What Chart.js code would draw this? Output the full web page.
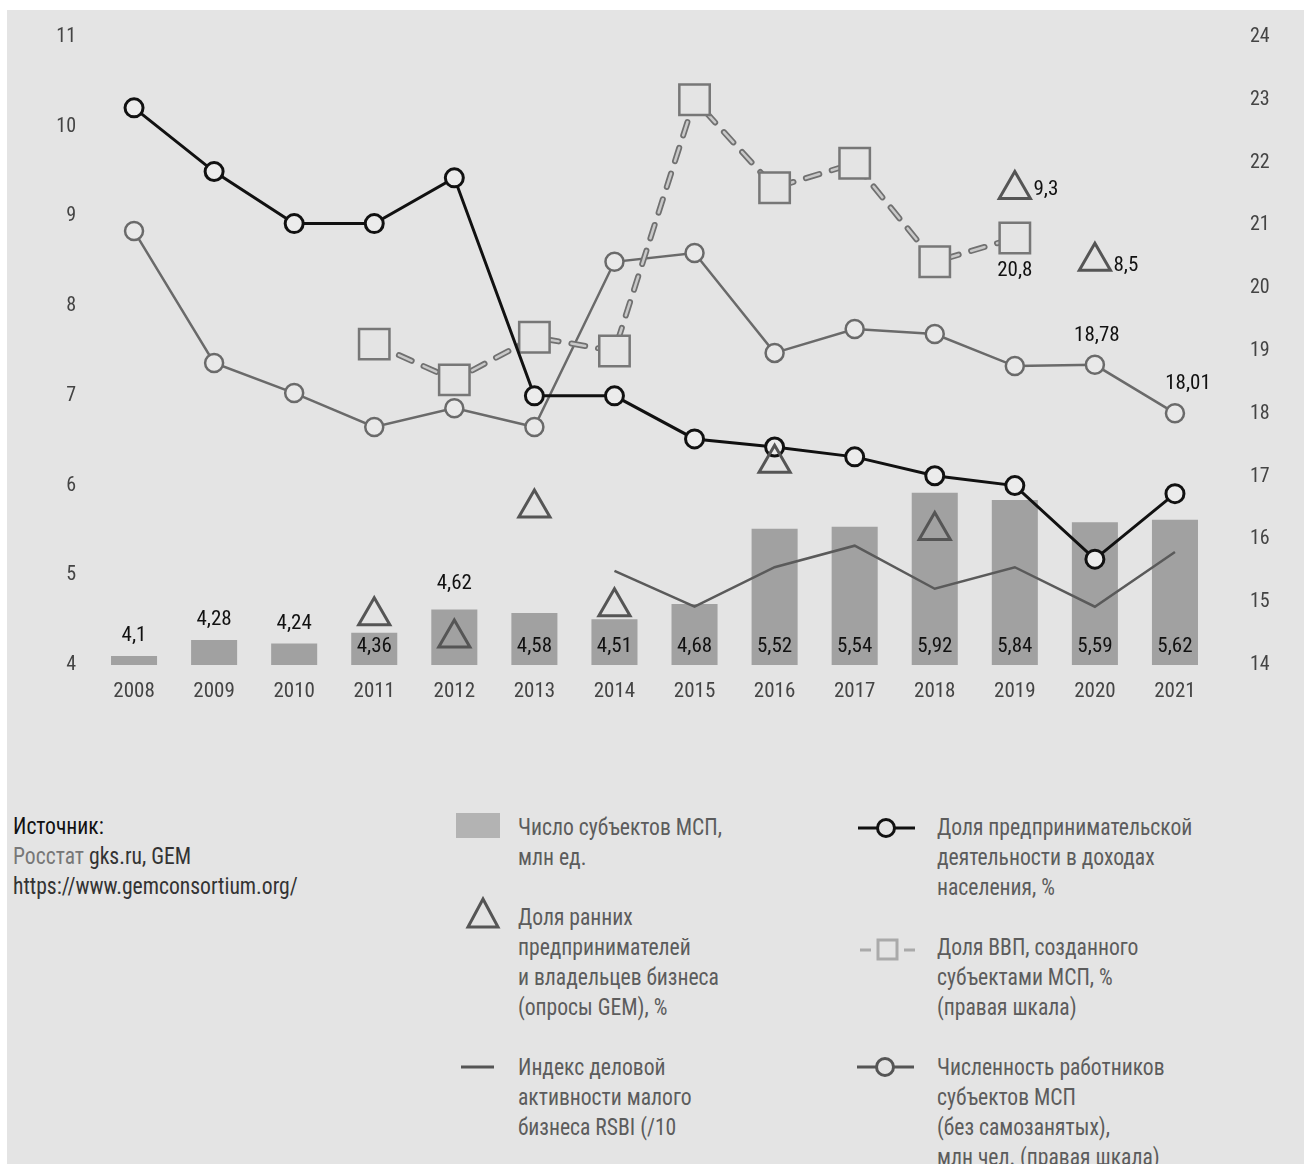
<!DOCTYPE html>
<html>
<head>
<meta charset="utf-8">
<script src="https://cdn.jsdelivr.net/npm/chart.js@4.4.1/dist/chart.umd.min.js"></script>
<style>
html,body{margin:0;padding:0;background:#fff;}
body{width:1304px;height:1164px;overflow:hidden;position:relative;font-family:"Liberation Sans Narrow","Roboto Condensed","DejaVu Sans Condensed",Roboto,sans-serif;}
#panel{position:absolute;left:7px;top:10px;width:1297px;height:1154px;background:#e4e4e4;overflow:hidden;}
#chartWrap{position:absolute;left:0;top:0;width:1297px;height:720px;}
#chartWrap canvas{display:block;}
.t{position:absolute;font-size:24px;line-height:30px;color:#5c5c5c;white-space:nowrap;transform:scaleX(0.9);transform-origin:0 0;}
.ico{position:absolute;}
</style>
</head>
<body>
<div id="panel">
  <div id="chartWrap"><canvas id="c" width="1297" height="720"></canvas></div>

  <div class="t" style="left:6px;top:801px;color:#333;"><span style="color:#111">Источник:</span><br><span style="color:#777">Росстат</span> gks.ru, GEM<br>https://www.gemconsortium.org/</div>

  <svg class="ico" style="left:449px;top:803px" width="44" height="25"><rect x="0" y="0" width="44" height="25" fill="#b3b3b3"/></svg>
  <div class="t" style="left:511px;top:802px;">Число субъектов МСП,<br>млн ед.</div>

  <svg class="ico" style="left:458px;top:886px" width="36" height="34"><polygon points="18,3 33,31 3,31" fill="none" stroke="#555" stroke-width="3"/></svg>
  <div class="t" style="left:511px;top:892px;">Доля ранних<br>предпринимателей<br>и владельцев бизнеса<br>(опросы GEM), %</div>

  <svg class="ico" style="left:454px;top:1050px" width="34" height="14"><line x1="0" y1="7" x2="33" y2="7" stroke="#555" stroke-width="3"/></svg>
  <div class="t" style="left:511px;top:1042px;">Индекс деловой<br>активности малого<br>бизнеса RSBI (/10</div>

  <svg class="ico" style="left:850px;top:806px" width="60" height="24"><line x1="1" y1="12" x2="58" y2="12" stroke="#111" stroke-width="3"/><circle cx="29" cy="12" r="8.5" fill="#e4e4e4" stroke="#111" stroke-width="3"/></svg>
  <div class="t" style="left:930px;top:802px;">Доля предпринимательской<br>деятельности в доходах<br>населения, %</div>

  <svg class="ico" style="left:850px;top:927px" width="60" height="26"><line x1="3" y1="13" x2="14" y2="13" stroke="#aaa" stroke-width="3"/><line x1="47" y1="13" x2="58" y2="13" stroke="#aaa" stroke-width="3"/><rect x="21" y="3" width="19" height="19" fill="none" stroke="#aaa" stroke-width="3"/></svg>
  <div class="t" style="left:930px;top:922px;">Доля ВВП, созданного<br>субъектами МСП, %<br>(правая шкала)</div>

  <svg class="ico" style="left:850px;top:1045px" width="60" height="24"><line x1="0" y1="12" x2="57" y2="12" stroke="#555" stroke-width="3"/><circle cx="28" cy="12" r="8.5" fill="#e4e4e4" stroke="#555" stroke-width="3"/></svg>
  <div class="t" style="left:930px;top:1042px;">Численность работников<br>субъектов МСП<br>(без самозанятых),<br>млн чел. (правая шкала)</div>
</div>

<script>
// ---- data ----
const years = ['2008','2009','2010','2011','2012','2013','2014','2015','2016','2017','2018','2019','2020','2021'];
const smeCount = [4.1, 4.28, 4.24, 4.36, 4.62, 4.58, 4.51, 4.68, 5.52, 5.54, 5.92, 5.84, 5.59, 5.62];
const smeCountLabels = ['4,1','4,28','4,24','4,36','4,62','4,58','4,51','4,68','5,52','5,54','5,92','5,84','5,59','5,62'];
const gemShare = [null, null, null, 4.55, 4.3, 5.75, 4.65, null, 6.25, null, 5.5, 9.3, 8.5, null];
const rsbiIndex = [null, null, null, null, null, null, 5.05, 4.65, 5.09, 5.33, 4.85, 5.09, 4.65, 5.26];
const incomeShare = [10.21, 9.5, 8.92, 8.92, 9.43, 7.0, 7.0, 6.52, 6.43, 6.32, 6.11, 6.0, 5.18, 5.91];
const gdpShare = [null, null, null, 19.11, 18.54, 19.22, 19.0, 23.0, 21.6, 21.99, 20.42, 20.8, null, null];
const employees = [20.91, 18.81, 18.33, 17.79, 18.09, 17.79, 20.42, 20.56, 18.97, 19.35, 19.27, 18.76, 18.78, 18.01];
const leftTicks = [4, 5, 6, 7, 8, 9, 10, 11];
const rightTicks = [14, 15, 16, 17, 18, 19, 20, 21, 22, 23, 24];
// point annotations: [datasetKey, index, text]
const pointNotes = [
  ['employees', 12, '18,78'],
  ['employees', 13, '18,01'],
  ['gdp', 11, '20,8'],
  ['gem', 11, '9,3'],
  ['gem', 12, '8,5']
];

// ---- styles ----
const FONT = '"Liberation Sans Narrow","Roboto Condensed","DejaVu Sans Condensed",Roboto,sans-serif';
const BG = '#e4e4e4';
const noteOffsets = {
  'employees-12': [2, -29], 'employees-13': [13, -29], 'gdp-11': [0, 33], 'gem-11': [31, 0], 'gem-12': [31, 4]
};
const barLabelAbove = i => smeCount[i] < 4.3 || i === 4;

const labelPlugin = {
  id: 'labels',
  afterDatasetsDraw(chart) {
    const ctx = chart.ctx;
    ctx.save();
    ctx.font = '21px ' + FONT;
    ctx.fillStyle = '#111';
    ctx.textAlign = 'center';
    ctx.textBaseline = 'middle';
    const baseY = chart.scales.y.getPixelForValue(4);
    const barMeta = chart.getDatasetMeta(0);
    barMeta.data.forEach((el, i) => {
      const above = barLabelAbove(i);
      const y = above ? el.y - (i === 4 ? 26 : 20) : baseY - 18;
      ctx.fillText(smeCountLabels[i], el.x, y);
    });
    pointNotes.forEach(([key, idx, txt]) => {
      const di = chart.data.datasets.findIndex(d => d.key === key);
      const el = chart.getDatasetMeta(di).data[idx];
      const off = noteOffsets[key + '-' + idx];
      ctx.fillText(txt, el.x + off[0], el.y + off[1]);
    });
    ctx.restore();
  }
};

function noPad(s) { s.paddingTop = 0; s.paddingBottom = 0; s.paddingLeft = 0; s.paddingRight = 0; }

new Chart(document.getElementById('c'), {
  data: {
    labels: years,
    datasets: [
      { key: 'bars', type: 'bar', data: smeCount, yAxisID: 'y', backgroundColor: '#a1a1a1',
        barPercentage: 0.575, categoryPercentage: 1, order: 10 },
      { key: 'rsbi', type: 'line', data: rsbiIndex, yAxisID: 'y', borderColor: '#5a5a5a', borderWidth: 2.5,
        pointRadius: 0, spanGaps: false, order: 9 },
      { key: 'employees', type: 'line', data: employees, yAxisID: 'y2', borderColor: '#6a6a6a', borderWidth: 2.5,
        pointRadius: 9, pointBorderWidth: 2.5, pointBackgroundColor: '#e9e9e9', pointBorderColor: '#6a6a6a', order: 8 },
      { key: 'gdpOutline', type: 'line', data: gdpShare, yAxisID: 'y2', borderColor: '#707070', borderWidth: 6,
        borderDash: [14, 13], borderCapStyle: 'round', pointRadius: 0, order: 7 },
      { key: 'gdp', type: 'line', data: gdpShare, yAxisID: 'y2', borderColor: '#c9c9c9', borderWidth: 2.5,
        borderDash: [14, 13], borderCapStyle: 'round', pointStyle: 'rect', pointRadius: 21.5, pointBorderWidth: 2.5,
        pointBorderColor: '#777', pointBackgroundColor: BG, order: 6 },
      { key: 'income', type: 'line', data: incomeShare, yAxisID: 'y', borderColor: '#111', borderWidth: 3,
        pointRadius: 9, pointBorderWidth: 3, pointBackgroundColor: '#ececec', pointBorderColor: '#111', order: 5 },
      { key: 'gem', type: 'line', data: gemShare, yAxisID: 'y', showLine: false, pointStyle: 'triangle',
        pointRadius: 18, pointBorderWidth: 3, pointBorderColor: '#555', pointBackgroundColor: 'rgba(0,0,0,0)', order: 4 }
    ]
  },
  options: {
    responsive: false,
    animation: false,
    events: [],
    layout: { autoPadding: false, padding: { top: 27, left: 0, right: 0, bottom: 0 } },
    plugins: { legend: { display: false }, tooltip: { enabled: false } },
    scales: {
      x: {
        grid: { display: false, drawTicks: false }, border: { display: false },
        ticks: { color: '#444', font: { size: 21, family: FONT }, padding: 14, maxRotation: 0, autoSkip: false },
        afterFit(s) { s.height = 65; noPad(s); }
      },
      y: {
        position: 'left', min: 4, max: 11,
        grid: { display: false, drawTicks: false }, border: { display: false },
        afterBuildTicks(s) { s.ticks = leftTicks.map(v => ({ value: v })); },
        ticks: { color: '#444', font: { size: 20, family: FONT }, padding: 18 },
        afterFit(s) { s.width = 87; noPad(s); }
      },
      y2: {
        position: 'right', min: 14, max: 24,
        grid: { display: false, drawTicks: false }, border: { display: false },
        afterBuildTicks(s) { s.ticks = rightTicks.map(v => ({ value: v })); },
        ticks: { color: '#444', font: { size: 20, family: FONT }, padding: 35 },
        afterFit(s) { s.width = 89; noPad(s); }
      }
    }
  },
  plugins: [labelPlugin]
});
</script>
</body>
</html>
